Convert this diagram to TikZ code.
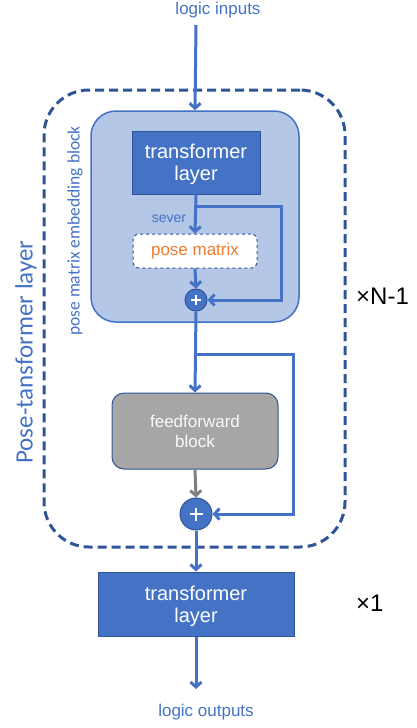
\documentclass[tikz,border=0pt]{standalone}
\usepackage{fontspec}
\setmainfont{Liberation Sans}
\newfontfamily\calib{Carlito}
\usetikzlibrary{arrows.meta}
\definecolor{mblue}{HTML}{4472C4}
\definecolor{dblue}{HTML}{2F5597}
\definecolor{lblue}{HTML}{B4C7E7}
\definecolor{orng}{HTML}{ED7D31}
\definecolor{gry}{HTML}{A6A6A6}
\definecolor{dgry}{HTML}{7F7F7F}
\newcommand{\fs}[1]{\fontsize{#1}{#1}\selectfont}
\begin{document}
\begin{tikzpicture}[x=1pt,y=-1pt,
  conn/.style={draw=mblue, line width=3pt, -{Straight Barb[length=5pt,width=11pt]}},
  gconn/.style={draw=dgry, line width=3pt, -{Straight Barb[length=5pt,width=11pt]}},
  tbox/.style={draw=dblue, line width=1pt, fill=mblue, text=white, align=center, inner sep=0pt, font=\fs{20}, text depth=0pt},
  plusc/.style={circle, fill=mblue, draw=dblue, line width=1pt, minimum size=#1, inner sep=0pt},
  pluss/.style={draw=white, line width=2pt},
  lab/.style={text=mblue, inner sep=0pt, font=\fs{17}}
]
\useasboundingbox (0,0) rectangle (417,728);
% outer dashed layer
\node[draw=dblue, line width=3pt, dash pattern=on 9pt off 5pt, rounded corners=45pt,
      minimum width=301pt, minimum height=457pt, inner sep=0pt] (outer) at (194.5,318.5) {};
% pose matrix embedding block
\node[draw=mblue, line width=1.5pt, fill=lblue, rounded corners=25pt,
      minimum width=208pt, minimum height=211pt, inner sep=0pt] (emb) at (195,216.5) {};
% top transformer layer
\node[tbox, minimum width=128pt, minimum height=63pt] (tl1) at (196,162.5) {transformer\\[2pt]layer};
% pose matrix
\node[draw=dblue, line width=1pt, dashed, fill=white, rounded corners=6pt,
      minimum width=124pt, minimum height=34pt, inner sep=0pt, text=orng, font=\fs{17}] (pm) at (195,251) {pose matrix};
% plus 1
\node[plusc=22pt] (p1) at (196,300) {};
\draw[pluss] (191,300) -- (201,300) (196,295) -- (196,305);
% feedforward block
\node[draw=dblue, line width=1pt, fill=gry, rounded corners=12pt,
      minimum width=166pt, minimum height=76pt, inner sep=0pt, align=center,
      text=white!95!gray, font=\fs{17}] (ff) at (195,431) {feedforward\\[3pt]block};
% plus 2
\node[plusc=32pt] (p2) at (196,514) {};
\draw[pluss] (189.5,514) -- (202.5,514) (196,507.5) -- (196,520.5);
% bottom transformer layer
\node[tbox, minimum width=196pt, minimum height=64pt] (tl2) at (196,604) {transformer\\[2pt]layer};

% texts
\node[lab] (lin) at (218,10) {logic inputs};
\node[lab] (lout) at (206,712) {logic outputs};
\node[text=mblue, inner sep=0pt, font=\fs{14}] (sev) at (169,219) {sever};
\node[inner sep=0pt, font=\fs{24}, anchor=west] (xn) at (356,296) {×N-1};
\node[inner sep=0pt, font=\fs{24}, anchor=west] (x1) at (356,603) {×1};
\node[rotate=90, text=mblue, inner sep=0pt, font=\calib\fs{25}] (ptl) at (26,352) {Pose-tansformer layer};
\node[rotate=90, text=mblue, inner sep=0pt, font=\calib\fs{17.5}] (pmeb) at (75,231) {pose matrix embedding block};

% connectors
\coordinate (cin) at (196,25);
\coordinate (cout) at (196,689);
\coordinate (b1) at (196,206);
\coordinate (r1) at (281,206);
\coordinate (b2) at (196,354);
\coordinate (r2) at (293,354);
\draw[conn] (cin) -- (emb.north);
\draw[conn] (tl1.south) -- (pm.north);
\draw[conn] (b1) -- (r1) |- (p1);
\draw[conn] (pm.south) -- (p1.north);
\draw[conn] (p1.south) -- (ff.north);
\draw[conn] (b2) -- (r2) |- (p2);
\draw[gconn] (ff.south) -- (p2.north);
\draw[conn] (p2.south) -- (tl2.north);
\draw[conn] (tl2.south) -- (cout);
\end{tikzpicture}
\end{document}
